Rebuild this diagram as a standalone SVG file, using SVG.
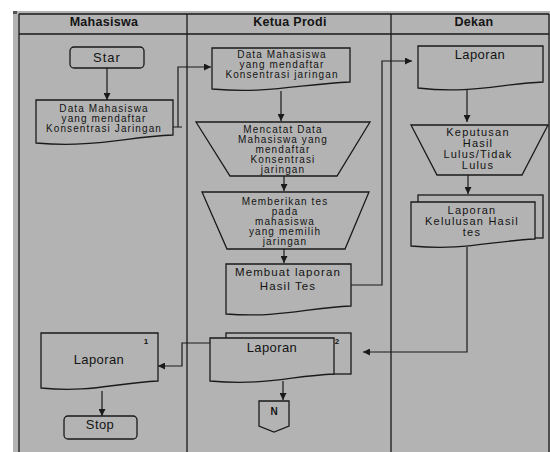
<svg xmlns="http://www.w3.org/2000/svg" width="550" height="452" viewBox="0 0 550 452">
<defs>
<style>
.ln{fill:none;stroke:#1a1a1a;stroke-width:1.3}
.sh{fill:#b3b3b3;stroke:#1a1a1a;stroke-width:1.3}
.c{stroke:#1a1a1a;stroke-width:1.2;fill:none}
text{font-family:"Liberation Sans",Arial,sans-serif;fill:#141414;text-anchor:middle}
.t{font-size:10px;letter-spacing:1.1px}
.m{font-size:11px;letter-spacing:1.2px}
.b{font-size:13px;letter-spacing:0.4px}
.h{font-size:12.5px;font-weight:bold;letter-spacing:0.3px}
.s{font-size:8px;font-weight:bold}
</style>
<marker id="ar" viewBox="0 0 10 10" refX="10" refY="5" markerWidth="7" markerHeight="7" markerUnits="userSpaceOnUse" orient="auto">
<path d="M0,0 L10,5 L0,10 Z" fill="#1a1a1a"/>
</marker>
</defs>
<rect x="0" y="0" width="550" height="452" fill="#ffffff"/>
<rect x="13" y="11" width="537" height="441" fill="#b3b3b3"/>
<rect x="13" y="11" width="4" height="3" fill="#555"/>
<g id="lanes">
<path class="ln" d="M19,14 H549 M19,14 V452 M549,14 V452 M19,34 H549 M187,14 V452 M391,14 V452"/>
<text class="h" x="104" y="26">Mahasiswa</text>
<text class="h" x="290" y="26">Ketua Prodi</text>
<text class="h" x="474" y="26">Dekan</text>
</g>
<g id="connectors">
<path class="c" d="M107,68 V100" marker-end="url(#ar)"/>
<path class="c" d="M173,127 H182 M178,127 V67 H211" marker-end="url(#ar)"/>
<path class="c" d="M281,91 V121" marker-end="url(#ar)"/>
<path class="c" d="M284,176 V191" marker-end="url(#ar)"/>
<path class="c" d="M284,249 V263" marker-end="url(#ar)"/>
<path class="c" d="M351,285 H382 V61 H412" marker-end="url(#ar)"/>
<path class="c" d="M467,88 V122" marker-end="url(#ar)"/>
<path class="c" d="M468,175 V194" marker-end="url(#ar)"/>
<path class="c" d="M467,247 V352 H363" marker-end="url(#ar)"/>
<path class="c" d="M210,343 H182 V366 H158" marker-end="url(#ar)"/>
<path class="c" d="M283,381 V400" marker-end="url(#ar)"/>
<path class="c" d="M102,391 V416" marker-end="url(#ar)"/>
</g>
<g id="star">
<rect class="sh" x="70" y="47" width="74" height="21" rx="4"/>
<text class="b" x="107" y="62" style="letter-spacing:1px">Star</text>
</g>
<g id="doc-mhs">
<path class="sh" d="M36,100 H173 V135 C125,137 95,148 36,143 Z"/>
<text class="t" x="104" y="112">Data Mahasiswa</text>
<text class="t" x="104" y="122">yang  mendaftar</text>
<text class="t" x="104" y="132">Konsentrasi Jaringan</text>
</g>
<g id="doc-kp">
<path class="sh" d="M212,48 H350 V82 C300,84 270,94 212,89 Z"/>
<text class="t" x="282" y="58">Data Mahasiswa</text>
<text class="t" x="282" y="68">yang mendaftar</text>
<text class="t" x="282" y="78">Konsentrasi jaringan</text>
</g>
<g id="mencatat">
<path class="sh" d="M196,122 H370 L337,176 H230 Z"/>
<text class="t" x="283" y="133">Mencatat  Data</text>
<text class="t" x="283" y="143">Mahasiswa yang</text>
<text class="t" x="283" y="153">mendaftar</text>
<text class="t" x="283" y="163">Konsentrasi</text>
<text class="t" x="283" y="173">jaringan</text>
</g>
<g id="memberikan">
<path class="sh" d="M202,192 H369 L345,249 H227 Z"/>
<text class="t" x="285" y="205">Memberikan tes</text>
<text class="t" x="285" y="215">pada</text>
<text class="t" x="285" y="225">mahasiswa</text>
<text class="t" x="285" y="235">yang memilih</text>
<text class="t" x="285" y="245">jaringan</text>
</g>
<g id="membuat">
<path class="sh" d="M226,264 H351 V306 C306,308 280,318 226,314 Z"/>
<text class="b" x="288" y="276" style="font-size:11.5px;letter-spacing:1.1px">Membuat laporan</text>
<text class="b" x="288" y="290" style="font-size:11.5px;letter-spacing:1.1px">Hasil Tes</text>
</g>
<g id="laporan-dekan">
<path class="sh" d="M418,46 H543 V82 C500,84 470,94 418,88 Z"/>
<text class="b" x="480" y="59">Laporan</text>
</g>
<g id="keputusan">
<path class="sh" d="M411,125 H548 L522,175 H437 Z"/>
<text class="m" x="478" y="136">Keputusan</text>
<text class="m" x="478" y="147">Hasil</text>
<text class="m" x="478" y="158">Lulus/Tidak</text>
<text class="m" x="478" y="169">Lulus</text>
</g>
<g id="kelulusan">
<rect class="sh" x="418" y="195" width="125" height="43"/>
<path class="sh" d="M411,202 H535 V239 C490,241 465,251 411,246 Z"/>
<text class="m" x="472" y="214">Laporan</text>
<text class="m" x="472" y="225">Kelulusan Hasil</text>
<text class="m" x="472" y="236">tes</text>
</g>
<g id="laporan-kp">
<rect class="sh" x="226" y="333" width="125" height="41"/>
<path class="sh" d="M210,338 H334 V374 C290,376 265,386 210,381 Z"/>
<text class="b" x="272" y="352">Laporan</text>
<text class="s" x="337" y="344">2</text>
</g>
<g id="connector-n">
<path class="sh" d="M259,401 H289 V426 L274,432 L259,426 Z"/>
<text class="s" x="274" y="415" style="font-size:10px">N</text>
</g>
<g id="laporan-mhs">
<path class="sh" d="M41,333 H158 V381 C115,383 90,393 41,388 Z"/>
<text class="b" x="99" y="364">Laporan</text>
<text class="s" x="146" y="344">1</text>
</g>
<g id="stop">
<rect class="sh" x="64" y="416" width="73" height="23" rx="4"/>
<text class="b" x="100" y="429">Stop</text>
</g>
</svg>
